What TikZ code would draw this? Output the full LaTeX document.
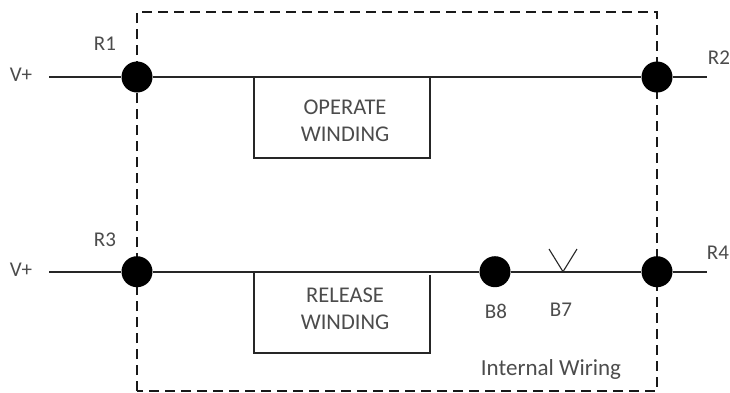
\documentclass[tikz,border=0pt]{standalone}
\usepackage{fontspec}
\setmainfont{Carlito}
\tikzset{
  x=1pt,y=-1pt,
  wire/.style={draw=black!85,line width=1.6pt},
  frame/.style={draw=black!90,line width=1.5pt,dash pattern=on 10pt off 6pt},
  dot/.style={circle,fill=black,inner sep=0pt,minimum size=31pt},
  coil/.style={draw=black!85,line width=1.5pt,minimum width=176pt,minimum height=81pt,inner sep=0pt},
  coiltext/.style={align=center,inner sep=0pt,font=\fontsize{22.5}{27}\selectfont,text=black!70},
  lbl/.style={inner sep=0pt,font=\fontsize{21}{25}\selectfont,text=black!70}
}
\begin{document}
\begin{tikzpicture}
\useasboundingbox (0,0) rectangle (730,392);
\fill[white] (0,0) rectangle (730,392);
\draw[frame] (137,391) -- (137,12) -- (657,12) -- (657,391) -- cycle;
\coordinate (v1) at (49,77);
\coordinate (e1) at (707,77);
\coordinate (v2) at (49,271.7);
\coordinate (e2) at (707,271.7);
\node[dot] (r1) at (137,77) {};
\node[dot] (r2) at (657,77) {};
\node[dot] (r3) at (137,271.7) {};
\node[dot] (r4) at (657,271.7) {};
\node[dot] (b8) at (495,271.7) {};
\coordinate (b7) at (563,271.7);
\coordinate (b7a) at (549,249);
\coordinate (b7b) at (577,249);
\draw[wire] (v1) -- (r1) -- (r2) -- (e1);
\draw[wire] (v2) -- (r3) -- (b8) -- (r4) -- (e2);
\draw[wire,line width=1.1pt] (b7a) -- (b7) -- (b7b);
\node[coil] (op) at (342,117.5) {};
\coordinate (reTL) at (254,271.7);
\coordinate (reBL) at (254,353);
\coordinate (reBR) at (430,353);
\coordinate (reTR) at (430,275);
\draw[wire] (reTL) -- (reBL) -- (reBR) -- (reTR);
\node[coiltext] (optext) at (345,121) {OPERATE\\WINDING};
\node[coiltext] (retext) at (345,309) {RELEASE\\WINDING};
\node[lbl] (t1) at (105,44) {R1};
\node[lbl] (t2) at (719,58) {R2};
\node[lbl] (t3) at (105,240) {R3};
\node[lbl] (t4) at (718,253) {R4};
\node[lbl] (t5) at (21,75) {V+};
\node[lbl] (t6) at (21,270) {V+};
\node[lbl] (t7) at (496,311) {B8};
\node[lbl] (t8) at (561,310) {B7};
\node[lbl,font=\fontsize{23}{27}\selectfont] (t9) at (551,369) {Internal Wiring};
\end{tikzpicture}
\end{document}
